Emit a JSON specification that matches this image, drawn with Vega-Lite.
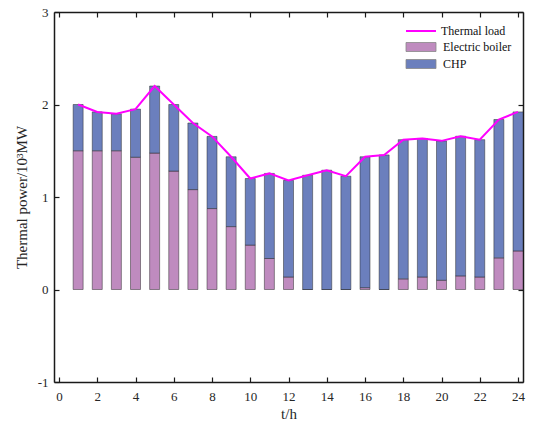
{
  "$schema": "https://vega.github.io/schema/vega-lite/v6.json",
  "width": 469,
  "height": 370,
  "autosize": "none",
  "padding": {"left": 54, "top": 12, "right": 13, "bottom": 40},
  "background": "white",
  "config": {
    "view": {"stroke": null},
    "font": "Liberation Serif",
    "axis": {
      "domainColor": "#1a1a1a",
      "domainWidth": 1.5,
      "tickColor": "#1a1a1a",
      "tickSize": -5,
      "tickWidth": 1.2,
      "labelFont": "Liberation Serif",
      "labelFontSize": 13,
      "labelColor": "#262626",
      "labelExpr": "'' + datum.value",
      "titleFont": "Liberation Serif",
      "titleFontSize": 15,
      "titleFontWeight": "normal",
      "titleColor": "#262626",
      "grid": false
    },
    "legend": {
      "labelFont": "Liberation Serif",
      "labelFontSize": 12,
      "labelColor": "#111"
    }
  },
  "datasets": {
    "bars": [
      {"hour": 1, "source": "Electric boiler", "value": 1.5},
      {"hour": 1, "source": "CHP", "value": 0.5},
      {"hour": 2, "source": "Electric boiler", "value": 1.5},
      {"hour": 2, "source": "CHP", "value": 0.42},
      {"hour": 3, "source": "Electric boiler", "value": 1.5},
      {"hour": 3, "source": "CHP", "value": 0.4},
      {"hour": 4, "source": "Electric boiler", "value": 1.43},
      {"hour": 4, "source": "CHP", "value": 0.52},
      {"hour": 5, "source": "Electric boiler", "value": 1.475},
      {"hour": 5, "source": "CHP", "value": 0.725},
      {"hour": 6, "source": "Electric boiler", "value": 1.28},
      {"hour": 6, "source": "CHP", "value": 0.72},
      {"hour": 7, "source": "Electric boiler", "value": 1.08},
      {"hour": 7, "source": "CHP", "value": 0.72},
      {"hour": 8, "source": "Electric boiler", "value": 0.875},
      {"hour": 8, "source": "CHP", "value": 0.78},
      {"hour": 9, "source": "Electric boiler", "value": 0.68},
      {"hour": 9, "source": "CHP", "value": 0.755},
      {"hour": 10, "source": "Electric boiler", "value": 0.48},
      {"hour": 10, "source": "CHP", "value": 0.72},
      {"hour": 11, "source": "Electric boiler", "value": 0.335},
      {"hour": 11, "source": "CHP", "value": 0.92},
      {"hour": 12, "source": "Electric boiler", "value": 0.135},
      {"hour": 12, "source": "CHP", "value": 1.045},
      {"hour": 13, "source": "Electric boiler", "value": 0},
      {"hour": 13, "source": "CHP", "value": 1.235},
      {"hour": 14, "source": "Electric boiler", "value": 0},
      {"hour": 14, "source": "CHP", "value": 1.29},
      {"hour": 15, "source": "Electric boiler", "value": 0},
      {"hour": 15, "source": "CHP", "value": 1.225},
      {"hour": 16, "source": "Electric boiler", "value": 0.02},
      {"hour": 16, "source": "CHP", "value": 1.415},
      {"hour": 17, "source": "Electric boiler", "value": 0},
      {"hour": 17, "source": "CHP", "value": 1.455},
      {"hour": 18, "source": "Electric boiler", "value": 0.115},
      {"hour": 18, "source": "CHP", "value": 1.505},
      {"hour": 19, "source": "Electric boiler", "value": 0.135},
      {"hour": 19, "source": "CHP", "value": 1.498},
      {"hour": 20, "source": "Electric boiler", "value": 0.1},
      {"hour": 20, "source": "CHP", "value": 1.507},
      {"hour": 21, "source": "Electric boiler", "value": 0.147},
      {"hour": 21, "source": "CHP", "value": 1.51},
      {"hour": 22, "source": "Electric boiler", "value": 0.135},
      {"hour": 22, "source": "CHP", "value": 1.485},
      {"hour": 23, "source": "Electric boiler", "value": 0.342},
      {"hour": 23, "source": "CHP", "value": 1.496},
      {"hour": 24, "source": "Electric boiler", "value": 0.417},
      {"hour": 24, "source": "CHP", "value": 1.503}
    ],
    "load": [
      {"hour": 1, "load": 2.0},
      {"hour": 2, "load": 1.92},
      {"hour": 3, "load": 1.9},
      {"hour": 4, "load": 1.95},
      {"hour": 5, "load": 2.2},
      {"hour": 6, "load": 2.0},
      {"hour": 7, "load": 1.8},
      {"hour": 8, "load": 1.655},
      {"hour": 9, "load": 1.435},
      {"hour": 10, "load": 1.2},
      {"hour": 11, "load": 1.255},
      {"hour": 12, "load": 1.18},
      {"hour": 13, "load": 1.235},
      {"hour": 14, "load": 1.29},
      {"hour": 15, "load": 1.225},
      {"hour": 16, "load": 1.435},
      {"hour": 17, "load": 1.455},
      {"hour": 18, "load": 1.62},
      {"hour": 19, "load": 1.633},
      {"hour": 20, "load": 1.607},
      {"hour": 21, "load": 1.657},
      {"hour": 22, "load": 1.62},
      {"hour": 23, "load": 1.838},
      {"hour": 24, "load": 1.92}
    ]
  },
  "resolve": {"axis": {"x": "independent", "y": "independent"}},
  "layer": [
    {
      "mark": {"type": "rule", "color": "#aaaaaa", "strokeWidth": 1},
      "encoding": {
        "y": {"datum": 0, "type": "quantitative", "scale": {"domain": [-1, 3]}, "axis": null}
      }
    },
    {
      "data": {"name": "bars"},
      "mark": {"type": "bar", "size": 10, "clip": true, "stroke": "#222222", "strokeWidth": 0.6, "strokeOpacity": 0.8},
      "encoding": {
        "x": {
          "field": "hour", "type": "quantitative",
          "scale": {"domain": [0, 24], "nice": false, "zero": false},
          "axis": {"orient": "bottom", "values": [0, 2, 4, 6, 8, 10, 12, 14, 16, 18, 20, 22, 24], "title": "t/h", "labelPadding": 13, "titlePadding": 3}
        },
        "y": {
          "field": "value", "type": "quantitative", "stack": "zero",
          "scale": {"domain": [-1, 3], "nice": false},
          "axis": {"orient": "left", "values": [-1, 0, 1, 2, 3], "title": "Thermal power/10³MW", "labelPadding": 11, "titlePadding": 8}
        },
        "fill": {
          "field": "source", "type": "nominal",
          "scale": {"domain": ["Electric boiler", "CHP"], "range": ["#bf8bbf", "#6b7fbd"]},
          "legend": {
            "title": null, "orient": "none", "legendX": 351, "legendY": 29,
            "symbolType": "M-1,-0.9H5V0.9H-1Z", "symbolSize": 100,
            "symbolStrokeColor": "#888888", "symbolStrokeWidth": 0.8,
            "rowPadding": 3, "labelOffset": 26
          }
        },
        "order": {"field": "source", "sort": "descending"}
      }
    },
    {
      "data": {"name": "load"},
      "mark": {"type": "line", "strokeWidth": 2, "clip": true},
      "encoding": {
        "x": {
          "field": "hour", "type": "quantitative",
          "scale": {"domain": [0, 24], "nice": false, "zero": false},
          "axis": {"orient": "top", "values": [0, 2, 4, 6, 8, 10, 12, 14, 16, 18, 20, 22, 24], "labels": false, "title": null}
        },
        "y": {
          "field": "load", "type": "quantitative",
          "scale": {"domain": [-1, 3], "nice": false},
          "axis": {"orient": "right", "values": [-1, 0, 1, 2, 3], "labels": false, "title": null}
        },
        "stroke": {
          "datum": "Thermal load", "type": "nominal",
          "scale": {"domain": ["Thermal load"], "range": ["#ff00ff"]},
          "legend": {
            "title": null, "orient": "none", "legendX": 351, "legendY": 3,
            "symbolType": "stroke", "symbolSize": 900, "symbolStrokeWidth": 2,
            "labelOffset": 4
          }
        }
      }
    }
  ]
}
